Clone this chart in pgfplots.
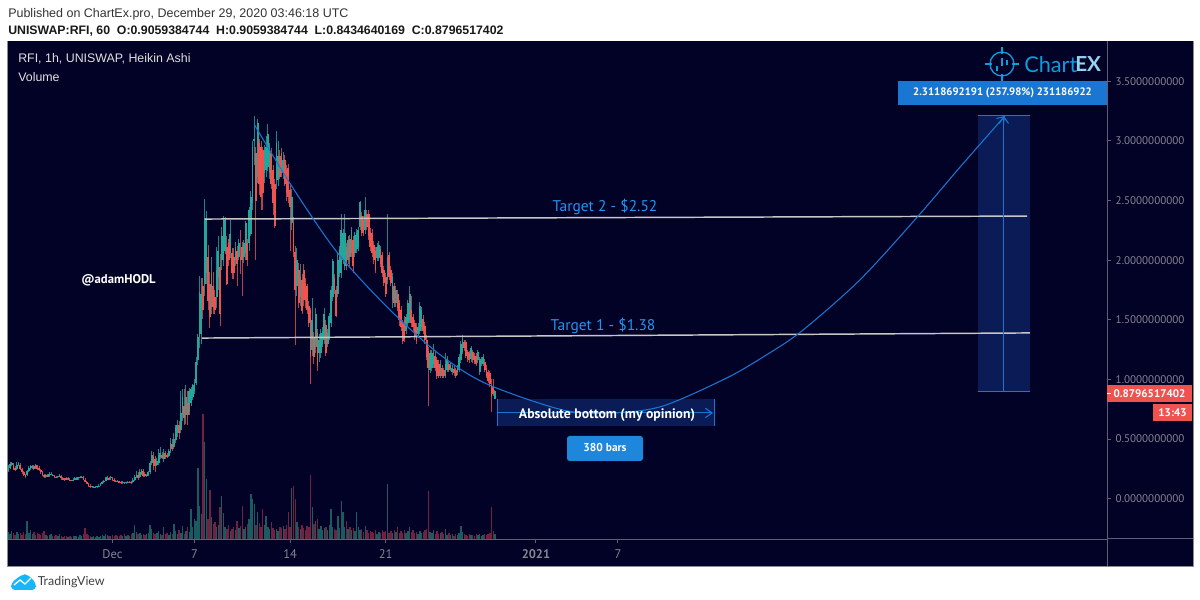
\documentclass[border=0pt]{standalone}
\usepackage{fontspec}
\usepackage{pgfplots}
\usepackage{pgfplotstable}
\pgfplotsset{compat=1.18}
\usetikzlibrary{arrows.meta}
\setmainfont{PT Sans}
\newfontfamily\hdr{Liberation Sans}
\newfontfamily\lato{Lato}
\definecolor{bg}{HTML}{020126}
\definecolor{gbody}{HTML}{26A69A}
\definecolor{rbody}{HTML}{EF5350}
\definecolor{gwick}{HTML}{1E8583}
\definecolor{rwick}{HTML}{B8424A}
\definecolor{gvol}{HTML}{1B5A5E}
\definecolor{rvol}{HTML}{74203F}
\definecolor{tv}{HTML}{1976D2}
\definecolor{tbl}{HTML}{2196F3}
\definecolor{boxf}{HTML}{0A1B55}
\definecolor{axc}{HTML}{5F5F72}
\definecolor{txc}{HTML}{858592}
% h = hours since 1 Dec 2020 00:00; c = 0 up, 1 down; wl bl bh wh = wick low, body low, body high, wick high; v = volume
\pgfplotstableread{
h c wl bl bh wh v
-183 0 .22 .23 .26 .28 7
-180 0 .25 .26 .29 .31 5
-177 0 .27 .28 .30 .31 8
-174 1 .24 .25 .28 .30 6
-171 1 .23 .24 .26 .27 4
-168 0 .24 .25 .28 .31 7
-165 0 .27 .28 .30 .31 5
-162 1 .24 .25 .28 .30 6
-159 1 .21 .22 .25 .26 4
-156 1 .19 .20 .22 .23 7
-153 1 .17 .18 .20 .21 5
-150 0 .19 .20 .23 .24 18
-147 0 .22 .23 .26 .27 6
-144 0 .24 .25 .27 .28 9
-141 0 .25 .26 .27 .28 5
-138 1 .24 .25 .27 .28 7
-135 0 .25 .26 .28 .29 4
-132 1 .24 .25 .27 .28 6
-129 1 .23 .24 .26 .27 5
-126 1 .21 .22 .24 .25 4
-123 1 .19 .20 .22 .23 6
-120 1 .17 .18 .20 .21 8
-117 0 .17 .18 .20 .21 4
-114 1 .18 .18 .20 .21 3
-111 0 .18 .19 .21 .22 4
-108 0 .20 .20 .21 .22 5
-105 1 .19 .19 .20 .21 3
-102 1 .17 .18 .19 .20 3
-99 1 .17 .17 .18 .19 4
-96 0 .17 .18 .19 .19 3
-93 0 .18 .18 .20 .21 5
-90 1 .16 .17 .19 .20 3
-87 1 .16 .16 .17 .18 2
-84 1 .15 .16 .17 .17 3
-81 1 .16 .16 .17 .18 3
-78 0 .16 .16 .17 .18 2
-75 1 .15 .15 .16 .17 3
-72 1 .15 .15 .16 .16 2
-69 0 .15 .15 .16 .17 3
-66 0 .16 .16 .17 .18 3
-63 0 .16 .16 .17 .18 3
-60 0 .16 .17 .18 .18 2
-57 0 .17 .17 .18 .19 4
-54 0 .17 .17 .18 .19 3
-51 1 .16 .16 .18 .19 5
-48 1 .14 .14 .16 .17 11
-45 1 .12 .12 .14 .15 5
-42 1 .10 .11 .12 .13 4
-39 1 .09 .10 .11 .12 3
-36 0 .09 .10 .11 .11 2
-33 0 .09 .09 .10 .11 3
-30 0 .09 .09 .10 .11 2
-27 0 .09 .10 .11 .11 3
-24 0 .10 .10 .11 .12 2
-21 0 .11 .11 .12 .13 3
-18 0 .12 .12 .14 .15 4
-15 0 .13 .14 .15 .16 3
-12 0 .15 .15 .17 .18 5
-9 0 .16 .16 .18 .19 4
-6 1 .16 .16 .17 .18 3
-3 0 .16 .17 .18 .19 3
0 1 .15 .16 .17 .18 4
3 1 .14 .15 .16 .17 3
6 1 .14 .14 .15 .16 4
9 0 .14 .14 .15 .16 3
12 1 .13 .13 .15 .15 3
15 1 .12 .13 .14 .15 4
18 0 .12 .13 .14 .15 3
21 1 .12 .12 .13 .14 5
24 0 .12 .13 .14 .14 3
27 0 .13 .13 .14 .15 4
30 1 .13 .13 .14 .15 3
33 1 .12 .13 .14 .15 5
36 0 .13 .14 .16 .17 6
39 0 .15 .16 .18 .20 14
42 0 .17 .18 .20 .23 7
45 1 .16 .17 .20 .22 5
48 0 .17 .18 .22 .25 6
51 0 .20 .21 .24 .25 4
54 1 .18 .19 .23 .25 5
57 1 .18 .19 .21 .22 4
60 0 .18 .19 .20 .21 5
63 0 .19 .20 .22 .23 6
66 0 .21 .22 .30 .32 14
69 0 .28 .30 .37 .40 10
72 1 .24 .27 .35 .39 6
75 1 .22 .27 .33 .36 5
78 0 .27 .28 .32 .34 6
81 0 .28 .30 .37 .42 8
84 0 .33 .35 .38 .43 5
87 1 .33 .34 .37 .39 4
90 0 .31 .33 .38 .42 12
93 1 .33 .35 .38 .40 5
96 1 .34 .35 .37 .38 6
99 0 .35 .36 .40 .42 4
102 0 .38 .40 .47 .51 7
105 1 .40 .42 .46 .50 5
108 0 .42 .43 .50 .55 15
111 0 .47 .49 .60 .62 8
114 0 .52 .55 .62 .66 5
117 1 .50 .55 .62 .65 9
120 0 .55 .58 .72 .90 6
123 0 .65 .70 .85 .92 13
126 1 .62 .68 .78 .92 5
129 0 .63 .70 .85 .95 8
132 1 .62 .70 .80 .90 12
135 0 .70 .73 .90 .93 7
138 0 .78 .80 .92 .94 30
141 0 .83 .85 .95 .96 12
144 0 .88 .90 .97 1.00 20
147 0 .95 .97 1.15 1.19 18
150 0 1.12 1.16 1.36 1.38 71
153 0 1.26 1.36 1.73 1.87 33
156 0 1.30 1.38 1.72 1.85 25
159 1 1.51 1.58 1.78 1.85 125
162 0 1.70 1.80 2.35 2.51 97
165 0 1.80 1.89 2.35 2.41 60
168 1 1.58 1.66 2.03 2.13 20
171 1 1.43 1.52 1.80 1.90 49
174 0 1.55 1.61 1.89 2.03 22
177 1 1.55 1.61 1.78 1.90 15
180 1 1.55 1.58 1.69 1.75 17
183 0 1.60 1.69 1.92 2.11 12
186 0 1.75 1.86 2.08 2.20 14
189 1 1.45 1.55 1.94 2.05 32
192 0 1.92 2.0 2.20 2.28 43
195 0 1.95 2.0 2.34 2.37 26
198 0 2.05 2.08 2.34 2.36 12
201 1 1.79 1.80 2.11 2.20 10
204 1 1.95 2.0 2.14 2.18 14
207 0 2.02 2.06 2.22 2.34 8
210 1 1.84 1.89 2.06 2.10 10
213 1 1.84 1.89 2.03 2.10 12
216 0 1.95 2.0 2.11 2.15 9
219 1 1.78 1.97 2.08 2.12 18
222 0 2.0 2.03 2.14 2.18 11
225 1 1.88 2.0 2.03 2.25 13
228 1 1.70 2.0 2.11 2.15 33
231 0 1.98 2.03 2.14 2.17 10
234 0 2.0 2.06 2.31 2.33 12
237 1 1.95 2.0 2.14 2.18 15
240 0 2.08 2.14 2.42 2.45 20
243 0 2.20 2.22 2.53 2.58 45
246 0 2.42 2.48 2.95 3.0 40
249 0 2.80 3.0 3.02 3.21 35
252 1 2.0 2.50 2.90 2.95 14
255 0 2.65 2.70 3.15 3.18 27
258 1 2.55 2.64 2.98 3.02 16
261 1 2.42 2.53 2.95 3.0 12
264 1 2.42 2.56 2.92 2.95 30
267 0 2.65 2.73 2.92 2.97 14
270 0 2.70 2.76 2.95 3.04 23
273 0 2.75 2.78 3.06 3.14 12
276 0 2.68 2.73 2.95 2.98 10
279 1 2.60 2.64 2.90 2.94 17
282 1 2.38 2.48 2.76 2.80 11
285 1 2.27 2.29 2.64 2.68 9
288 0 2.60 2.67 2.98 3.08 10
291 0 2.62 2.67 2.87 3.0 8
294 1 2.68 2.70 2.87 2.92 12
297 1 2.70 2.73 2.90 2.94 11
300 0 2.68 2.73 2.84 2.91 13
303 1 2.62 2.64 2.84 2.88 10
306 1 2.50 2.56 2.76 2.80 14
309 1 2.48 2.53 2.77 2.81 27
312 1 2.08 2.45 2.59 2.64 12
315 0 2.25 2.31 2.53 2.60 51
318 1 2.03 2.07 2.31 2.36 53
321 1 1.29 1.75 2.07 2.12 40
324 0 1.70 1.78 2.0 2.10 17
327 1 1.60 1.64 1.92 1.98 12
330 0 1.62 1.69 1.86 1.97 10
333 1 1.55 1.57 1.83 1.88 14
336 1 1.62 1.67 1.92 1.97 11
339 1 1.60 1.67 1.81 1.85 9
342 1 1.55 1.58 1.78 1.80 13
345 1 1.44 1.47 1.62 1.66 12
348 1 .96 1.19 1.58 1.60 64
351 0 1.20 1.25 1.50 1.68 32
354 1 1.13 1.19 1.36 1.40 15
357 0 1.22 1.27 1.55 1.60 18
360 1 1.07 1.11 1.39 1.42 20
363 0 1.15 1.22 1.33 1.38 10
366 0 1.18 1.22 1.39 1.42 13
369 0 1.27 1.30 1.41 1.44 9
372 0 1.30 1.33 1.55 1.60 11
375 1 1.20 1.22 1.46 1.50 12
378 0 1.27 1.30 1.39 1.42 9
381 0 1.33 1.36 1.53 1.56 14
384 0 1.44 1.47 1.75 1.78 30
387 0 1.66 1.69 1.99 2.01 12
390 1 1.72 1.75 1.85 1.88 10
393 1 1.52 1.53 1.75 1.78 9
396 0 1.69 1.72 2.0 2.07 23
399 0 1.86 1.89 2.09 2.12 11
402 0 1.85 1.89 2.25 2.39 38
405 0 1.97 2.0 2.23 2.26 27
408 0 1.92 1.95 2.23 2.39 12
411 1 1.92 1.95 2.11 2.14 18
414 0 1.97 2.0 2.17 2.20 10
417 1 1.95 2.03 2.18 2.21 12
420 0 2.03 2.06 2.25 2.28 9
423 1 1.89 1.95 2.17 2.20 11
426 0 2.03 2.06 2.21 2.24 8
429 0 2.06 2.09 2.23 2.26 27
432 0 2.08 2.11 2.25 2.28 12
435 0 2.25 2.28 2.49 2.50 9
438 1 2.20 2.23 2.37 2.40 10
441 1 2.20 2.23 2.34 2.37 7
444 0 2.22 2.25 2.42 2.53 13
447 1 2.25 2.28 2.39 2.42 9
450 1 2.17 2.20 2.39 2.42 6
453 1 2.08 2.11 2.24 2.27 8
456 1 2.03 2.06 2.23 2.26 7
459 1 1.97 2.0 2.13 2.16 6
462 1 1.89 1.92 2.08 2.11 9
465 0 1.99 2.02 2.11 2.14 5
468 0 1.99 2.02 2.13 2.16 7
471 1 1.94 1.97 2.09 2.12 6
474 1 1.86 1.89 2.04 2.07 9
477 1 1.78 1.81 1.92 1.95 7
480 1 1.69 1.72 1.86 1.89 8
483 0 1.80 1.83 2.03 2.39 55
486 1 1.83 1.86 2.04 2.07 6
489 1 1.78 1.81 1.92 1.95 8
492 0 1.60 1.67 1.86 1.89 6
495 1 1.61 1.64 1.78 1.81 9
498 0 1.61 1.64 1.75 1.78 7
501 1 1.57 1.60 1.72 1.75 12
504 1 1.45 1.50 1.64 1.67 6
507 1 1.41 1.44 1.58 1.62 8
510 1 1.30 1.32 1.47 1.50 6
513 1 1.31 1.34 1.50 1.53 9
516 0 1.38 1.41 1.52 1.55 6
519 0 1.44 1.47 1.64 1.67 8
522 0 1.47 1.50 1.72 1.78 12
525 1 1.44 1.47 1.58 1.70 7
528 1 1.41 1.44 1.52 1.55 9
531 1 1.33 1.36 1.47 1.50 6
534 1 1.30 1.32 1.44 1.47 7
537 0 1.35 1.38 1.44 1.47 5
540 0 1.38 1.41 1.62 1.65 8
543 0 1.41 1.44 1.58 1.61 6
546 1 1.38 1.41 1.51 1.54 7
549 1 1.30 1.33 1.45 1.48 9
552 1 1.16 1.19 1.33 1.37 10
555 1 .78 1.10 1.24 1.27 48
558 0 1.05 1.08 1.22 1.25 7
561 0 1.07 1.10 1.22 1.25 6
564 0 1.10 1.13 1.23 1.30 9
567 1 1.07 1.10 1.20 1.23 5
570 1 1.00 1.03 1.16 1.19 8
573 1 1.01 1.03 1.13 1.16 5
576 0 1.01 1.03 1.13 1.16 6
579 1 1.01 1.03 1.10 1.12 7
582 1 1.01 1.03 1.08 1.10 5
585 0 1.01 1.03 1.13 1.22 10
588 0 1.06 1.08 1.17 1.20 4
591 1 1.06 1.08 1.13 1.15 6
594 0 1.07 1.09 1.12 1.14 4
597 0 1.04 1.06 1.10 1.12 5
600 1 1.03 1.05 1.09 1.11 3
603 1 1.01 1.03 1.08 1.10 5
606 0 1.04 1.06 1.10 1.12 4
609 0 1.06 1.08 1.19 1.21 6
612 0 1.14 1.16 1.30 1.32 13
615 0 1.21 1.23 1.34 1.37 7
618 1 1.24 1.26 1.31 1.33 5
621 1 1.18 1.20 1.31 1.33 4
624 1 1.15 1.17 1.23 1.25 3
627 1 1.14 1.16 1.22 1.24 5
630 0 1.15 1.17 1.26 1.28 4
633 1 1.14 1.16 1.23 1.25 4
636 1 1.13 1.15 1.20 1.22 3
639 1 1.11 1.13 1.20 1.22 5
642 0 1.14 1.16 1.23 1.25 4
645 0 1.04 1.06 1.17 1.19 5
648 0 1.11 1.13 1.17 1.19 3
651 0 1.11 1.13 1.19 1.21 4
654 1 1.06 1.08 1.15 1.17 5
657 1 1.01 1.03 1.10 1.12 4
660 1 .97 .99 1.06 1.08 5
663 1 .94 .96 1.05 1.07 6
666 1 .73 .85 .95 1.0 32
669 1 .86 .88 .94 1.0 8
672 0 .84 .84 .90 .91 5
}\ohlc
\newcommand{\bars}[5]{% c, lower col, upper col, colour, width
\addplot[forget plot,draw=none,mark=none,
  error bars/.cd,y dir=plus,y explicit,error mark=none,
  error bar style={color=#4,line width=#5}]
  table[x expr={\thisrow{c}==#1?\thisrow{h}:nan},y=#2,
        y error plus expr={\thisrow{#3}-\thisrow{#2}}]{\ohlc};}
\newcommand{\volbars}[3]{% c, colour, width
\addplot[forget plot,draw=none,mark=none,
  error bars/.cd,y dir=plus,y explicit,error mark=none,
  error bar style={color=#2,line width=#3}]
  table[x expr={\thisrow{c}==#1?\thisrow{h}:nan},y expr=0,
        y error plus expr={\thisrow{v}}]{\ohlc};}
\begin{document}
\begin{tikzpicture}
\useasboundingbox (0,0) rectangle (900pt,450pt);
\fill[white] (0,0) rectangle (900pt,450pt);
\begin{scope}[x=0.75pt,y=-0.75pt,yshift=450pt]
\fill[bg] (8,41) rectangle (1193,566);
\draw[line width=0.75pt,color=black!45] (7.5,41) -- (7.5,566.5) -- (1193.5,566.5) -- (1193.5,41);
\draw[line width=0.75pt,color=axc] (1107,539) -- (1107,566);
\draw[line width=0.75pt,color=axc] (1107,539) -- (1193,539);
\end{scope}
% volume
\begin{axis}[at={(6pt,45.75pt)},anchor=south west,scale only axis,width=824.25pt,height=373.5pt,
  hide axis,xmin=-183.6,xmax=1747.3,ymin=0,ymax=498,clip=true]
\volbars{0}{gvol}{1.05pt}
\volbars{1}{rvol}{1.05pt}
\end{axis}
% price
\begin{axis}[at={(6pt,45.75pt)},anchor=south west,scale only axis,width=824.25pt,height=373.5pt,
  xmin=-183.6,xmax=1747.3,ymin=-0.338,ymax=3.838,
  axis x line=bottom,axis y line=right,
  axis line style={-,draw=axc,line width=0.75pt},
  tick style={draw=axc,line width=0.75pt},
  tick align=outside,major tick length=3pt,
  xtick={0,144,312,480,744,888},
  xticklabels={Dec,7,14,21,{\bfseries 2021},7},
  ytick={0,0.5,1,1.5,2,2.5,3,3.5},
  yticklabels={0.0000000000,0.5000000000,1.0000000000,1.5000000000,2.0000000000,2.5000000000,3.0000000000,3.5000000000},
  xticklabel style={yshift=-1.5pt,font=\fontsize{9.4pt}{11pt}\selectfont,color=txc},
  yticklabel style={xshift=0pt,font=\fontsize{8.3pt}{11pt}\selectfont,color=txc},
  clip=true]
% boxes
\addplot[forget plot,draw=none,fill=boxf] coordinates {(1521,0.895)(1612,0.895)(1612,3.216)(1521,3.216)} --cycle;
\addplot[forget plot,draw=none,fill=boxf] coordinates {(676,0.61)(1057,0.61)(1057,0.836)(676,0.836)} --cycle;
% candles
\bars{0}{wl}{wh}{gwick}{0.75pt}
\bars{1}{wl}{wh}{rwick}{0.75pt}
\bars{0}{bl}{bh}{gbody}{1.35pt}
\bars{1}{bl}{bh}{rbody}{1.35pt}
% horizontal targets
\addplot[forget plot,color=black!22,line width=1.1pt] coordinates {(162.5,2.345)(1607,2.37)};
\addplot[forget plot,color=black!22,line width=1.1pt] coordinates {(157,1.347)(1612,1.39)};
% curve
\addplot[forget plot,color=tv,line width=0.8pt,smooth,-{Straight Barb[length=5pt,width=7pt]}] coordinates {
(250,3.13)(317,2.605)(394,2.07)(479,1.624)(567,1.239)(654,.97)(791,.744)(879,.719)(967,.777)(1079,1.012)(1146,1.197)(1211,1.406)(1313,1.834)(1414,2.362)(1489,2.78)(1568,3.21)};
% price range
\addplot[forget plot,color=tv,line width=0.8pt] coordinates {(1521,3.216)(1612,3.216)};
\addplot[forget plot,color=tv,line width=0.8pt] coordinates {(1521,0.895)(1612,0.895)};
\addplot[forget plot,color=tv,line width=0.8pt,-{Straight Barb[length=5pt,width=7pt]}] coordinates {(1566,0.895)(1566,3.21)};
% date range
\addplot[forget plot,color=tv,line width=0.8pt] coordinates {(676,0.61)(676,0.836)};
\addplot[forget plot,color=tv,line width=0.8pt] coordinates {(1057,0.61)(1057,0.836)};
\addplot[forget plot,color=tv,line width=0.8pt,-{Straight Barb[length=5pt,width=7pt]}] coordinates {(676,0.719)(1055,0.719)};
\end{axis}
\begin{scope}[x=0.75pt,y=-0.75pt,yshift=450pt]
% header
\node[anchor=west,inner sep=0,font=\hdr\fontsize{9.37pt}{11pt}\selectfont,color=black!80] at (8,14) {Published on ChartEx.pro, December 29, 2020 03:46:18 UTC};
\node[anchor=west,inner sep=0,font=\hdr\bfseries\fontsize{9.23pt}{11pt}\selectfont,color=black!90] at (8,31) {UNISWAP:RFI, 60\ \ O:0.9059384744\ \ H:0.9059384744\ \ L:0.8434640169\ \ C:0.8796517402};
% legend
\node[anchor=west,inner sep=0,font=\hdr\fontsize{9.3pt}{11pt}\selectfont,color=black!12] at (18,59) {RFI, 1h, UNISWAP, Heikin Ashi};
\node[anchor=west,inner sep=0,font=\hdr\fontsize{9.3pt}{11pt}\selectfont,color=black!12] at (18,77.5) {Volume};
\node[anchor=west,inner sep=0,font=\bfseries\fontsize{9.5pt}{11pt}\selectfont,color=white] at (81,280) {@adamHODL};
\node[anchor=center,inner sep=0,font=\fontsize{11.6pt}{13pt}\selectfont,color=tbl] at (605,207) {Target 2 - \$2.52};
\node[anchor=center,inner sep=0,font=\fontsize{11.6pt}{13pt}\selectfont,color=tbl] at (603,326) {Target 1 - \$1.38};
\node[anchor=center,inner sep=0,font=\bfseries\fontsize{10.3pt}{12pt}\selectfont,color=white] at (607,415) {Absolute bottom (my opinion)};
\fill[tbl!90!black,rounded corners=2pt] (567,436) rectangle (643,461);
\node[anchor=center,inner sep=0,font=\bfseries\fontsize{8.6pt}{11pt}\selectfont,color=white] at (605,447.5) {380 bars};
\fill[tv] (898,81) rectangle (1107,105.5);
\node[anchor=center,inner sep=0,font=\bfseries\fontsize{8.1pt}{11pt}\selectfont,color=white] at (1002.5,92.5) {2.3118692191 (257.98\%) 231186922};
% last price
\fill[rbody] (1107,385) rectangle (1192,402);
\node[anchor=center,inner sep=0,font=\bfseries\fontsize{8.3pt}{11pt}\selectfont,color=white] at (1149.5,393.5) {0.8796517402};
\draw[white,line width=0.75pt] (1107,393.8) -- (1111,393.8);
\fill[rbody] (1153,404) rectangle (1192,421);
\node[anchor=center,inner sep=0,font=\bfseries\fontsize{8.3pt}{11pt}\selectfont,color=white] at (1172.5,412.5) {13:43};
% logo
\definecolor{cx}{HTML}{0E9BE0}
\draw[cx,line width=1pt] (1002,64) circle (12);
\draw[cx,line width=1pt] (1002,47) -- (1002,54) (1002,74) -- (1002,81) (985,64) -- (992,64) (1012,64) -- (1019,64);
\draw[cx,line width=1.3pt] (997,66) -- (997,71) (1002,58) -- (1002,66) (1007,60) -- (1007,65);
\node[anchor=west,inner sep=0,font=\lato\fontsize{16.3pt}{18pt}\selectfont,color=cx] at (1024,64.5) {Chart};
\node[anchor=west,inner sep=0,font=\lato\bfseries\fontsize{15.5pt}{18pt}\selectfont,color=cx!45!white] at (1075,64.5) {EX};
% TradingView
\fill[tbl!70!cyan,rounded corners=3pt] (11,590) -- (11,583) -- (22,574.5) -- (28,574.5) -- (36,583) -- (36,590) -- cycle;
\draw[white,line width=1pt] (14,585) -- (20,580) -- (25,584) -- (31,578);
\node[anchor=west,inner sep=0,font=\lato\fontsize{9.3pt}{11pt}\selectfont,color=black!75] at (37.5,582) {TradingView};
\end{scope}
\end{tikzpicture}
\end{document}
